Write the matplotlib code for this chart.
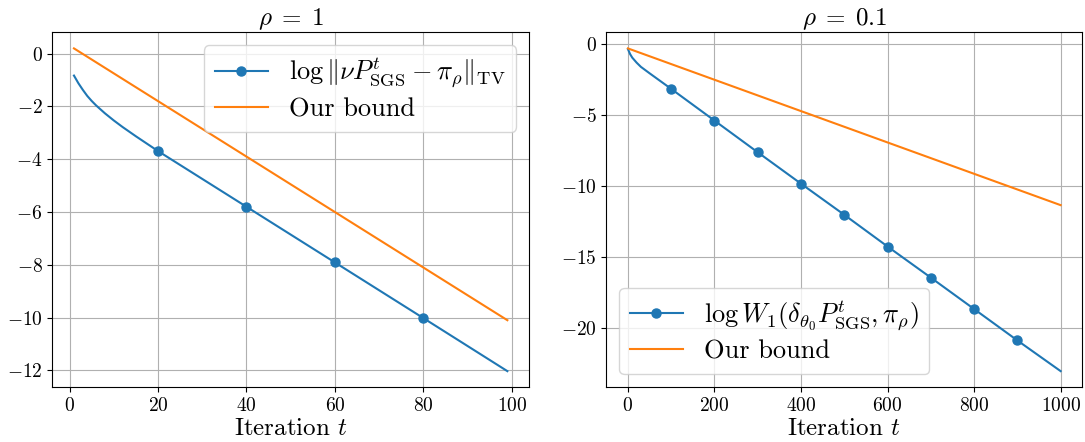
import numpy as np
import matplotlib
matplotlib.use("Agg")
import matplotlib.pyplot as plt

plt.rcParams['font.family'] = 'serif'
plt.rcParams['font.serif'] = ['cmr10']
plt.rcParams['mathtext.fontset'] = 'cm'
plt.rcParams['axes.formatter.use_mathtext'] = True
plt.rcParams['axes.unicode_minus'] = True

# rho = 1 panel
t_left = [1, 2, 3, 4, 5, 6, 8, 10, 12, 15, 20, 40, 60, 80, 99]
tv_left = [-0.83, -1.12, -1.37, -1.60, -1.79, -1.96, -2.26, -2.53, -2.78, -3.13,
           -3.69, -5.80, -7.91, -10.02, -12.03]
bound_t_left = [1, 99]
bound_left = [0.20, -10.10]
marks_left = [20, 40, 60, 80]

# rho = 0.1 panel
t_right = [0, 5, 10, 20, 30, 50, 100, 200, 300, 400, 500, 600, 700, 800, 900, 1000]
w1_right = [-0.35, -0.70, -0.95, -1.30, -1.60, -2.05, -3.15, -5.38, -7.61, -9.82,
            -12.01, -14.24, -16.43, -18.64, -20.85, -23.01]
bound_t_right = [0, 1000]
bound_right = [-0.30, -11.33]
marks_right = [100, 200, 300, 400, 500, 600, 700, 800, 900]

fig = plt.figure(figsize=(10.85, 4.42), dpi=100)
ax1 = fig.add_axes([0.0482, 0.1238, 0.4394, 0.8032])
ax2 = fig.add_axes([0.5588, 0.1238, 0.4387, 0.8032])

blue, orange = '#1f77b4', '#ff7f0e'

idx = [t_left.index(m) for m in marks_left]
ax1.plot(t_left, tv_left, color=blue, lw=1.5, marker='o', ms=6.5, markevery=idx,
         label=r'$\log\|\nu P^t_{\mathrm{SGS}} - \pi_\rho\|_{\mathrm{TV}}$')
ax1.plot(bound_t_left, bound_left, color=orange, lw=1.5, label='Our bound')
ax1.set_title(r'$\rho\;=\;1$', fontsize=18, pad=5)
ax1.set_xlabel(r'Iteration $t$', fontsize=18, labelpad=2)
ax1.set_xticks([0, 20, 40, 60, 80, 100])
ax1.set_yticks([0, -2, -4, -6, -8, -10, -12])
ax1.grid(True)
ax1.legend(loc='upper right', fontsize=19, labelspacing=0.3)

idx = [t_right.index(m) for m in marks_right]
ax2.plot(t_right, w1_right, color=blue, lw=1.5, marker='o', ms=6.5, markevery=idx,
         label=r'$\log W_1(\delta_{\theta_0} P^t_{\mathrm{SGS}}, \pi_\rho)$')
ax2.plot(bound_t_right, bound_right, color=orange, lw=1.5, label='Our bound')
ax2.set_title(r'$\rho\;=\;0.1$', fontsize=18, pad=5)
ax2.set_xlabel(r'Iteration $t$', fontsize=18, labelpad=2)
ax2.set_xticks([0, 200, 400, 600, 800, 1000])
ax2.set_yticks([0, -5, -10, -15, -20])
ax2.grid(True)
ax2.legend(loc='lower left', fontsize=19, labelspacing=0.3)

for ax in (ax1, ax2):
    ax.tick_params(labelsize=14)

fig.savefig('out.png', dpi=100)
